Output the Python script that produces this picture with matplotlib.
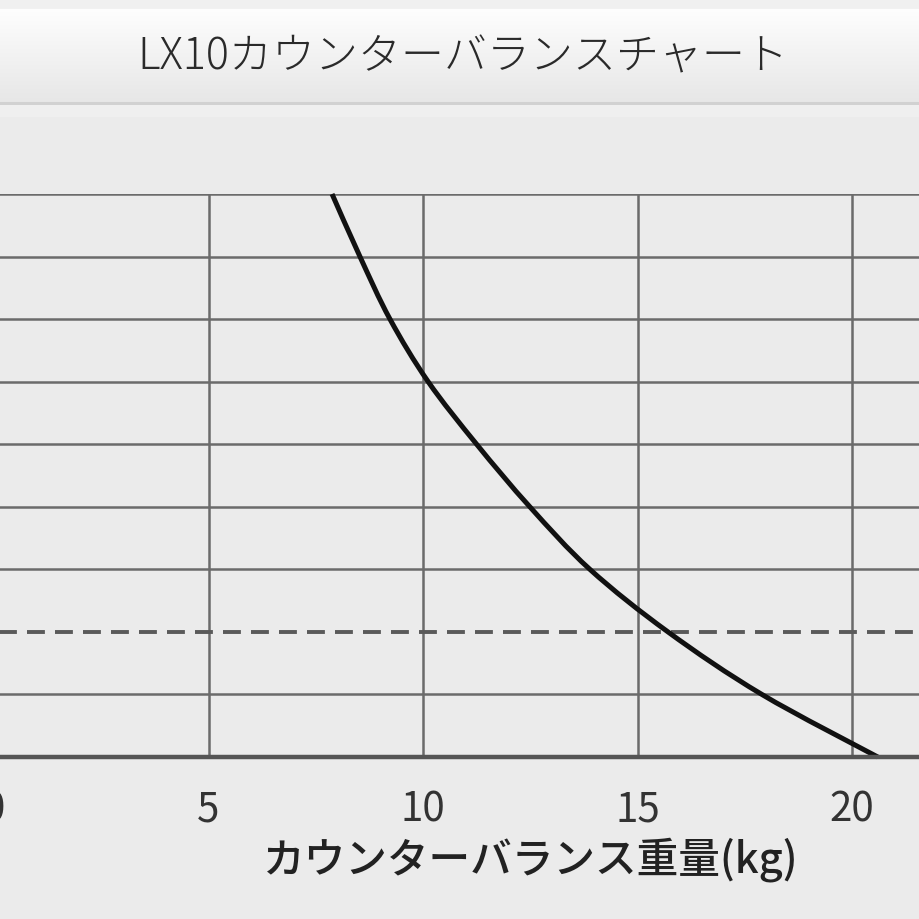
import numpy as np
import matplotlib.pyplot as plt
from matplotlib.path import Path
from matplotlib.patches import PathPatch

plt.rcParams['font.family'] = ['Noto Sans CJK JP', 'DejaVu Sans']

weight_kg = [7.88, 8.53, 9.23, 10.12, 11.25, 12.49, 13.89, 15.71, 17.9, 20.6]
level = [9, 8, 7, 6, 5, 4, 3, 2, 1, 0]

x_ticks = [0, 5, 10, 15, 20]
grid_levels = [1, 3, 4, 5, 6, 7, 8, 9]
dashed_level = 2

title = 'LX10カウンターバランスチャート'
xlabel = 'カウンターバランス重量(kg)'

W = H = 920
fig = plt.figure(figsize=(W / 100, H / 100), dpi=100)
fig.patch.set_facecolor('#ebebeb')

def px_box(x0, y0, x1, y1):
    # pixel box (top-left origin) -> figure fraction rect
    return [x0 / W, 1 - y1 / H, (x1 - x0) / W, (y1 - y0) / H]

def smooth_path(xs, ys):
    # smoothed line through the points (Catmull-Rom as cubic Beziers)
    p = np.column_stack([xs, ys]).astype(float)
    ext = np.vstack([p[0], p, p[-1]])
    verts = [p[0]]
    codes = [Path.MOVETO]
    for i in range(1, len(ext) - 2):
        p0, p1, p2, p3 = ext[i - 1], ext[i], ext[i + 1], ext[i + 2]
        verts += [p1 + (p2 - p0) / 6, p2 - (p3 - p1) / 6, p2]
        codes += [Path.CURVE4] * 3
    return Path(verts, codes)

# title bar with soft vertical gradient
bar = fig.add_axes(px_box(0, 0, W, 118))
bar.set_axis_off()
grad = np.ones((118, 2, 3))
rows = np.arange(118)
shade = np.where(rows < 10, 0.945,
        np.where(rows < 103, 0.995 - (rows - 10) / 93 * 0.09,
        np.where(rows < 106, 0.82, 0.94)))
grad *= shade[:, None, None]
bar.imshow(grad, aspect='auto', extent=[0, 1, 0, 1], interpolation='bilinear')
bar.text(0.503, 1 - 57 / 118, title, ha='center', va='center',
         fontsize=31, fontweight='light', color='#2a2a2a')

# main plot, left part of the axis is cut off by the frame
px_per_kg = 42.9
x0_px = -6
ax = fig.add_axes(px_box(x0_px, 195, W, 758))
ax.set_facecolor('#ebebeb')
ax.set_xlim(0, (W - x0_px) / px_per_kg)
ax.set_ylim(0, 9)

for v in x_ticks[1:]:
    ax.axvline(v, color='#6b6b6b', lw=1.8, zorder=1)
for v in grid_levels:
    ax.axhline(v, color='#6b6b6b', lw=1.8, zorder=1)
ax.axhline(dashed_level, color='#5a5a5a', lw=2.8, dashes=(4.6, 2.6), zorder=2)

curve = PathPatch(smooth_path(weight_kg, level), fill=False,
                  edgecolor='#111111', lw=3.6, capstyle='butt',
                  clip_on=False, zorder=3)
ax.add_patch(curve)

for s in ['top', 'left', 'right']:
    ax.spines[s].set_visible(False)
ax.spines['bottom'].set_color('#555555')
ax.spines['bottom'].set_linewidth(3.2)
ax.spines['bottom'].set_zorder(4)

ax.set_yticks([])
ax.set_xticks(x_ticks)
ax.set_xticklabels([str(t) for t in x_ticks])
ax.tick_params(axis='x', length=0, pad=23, labelsize=29, labelcolor='#333333')

fig.text(531 / W, 1 - 860 / H, xlabel, ha='center', va='center',
         fontsize=30, color='#222222', fontweight='medium')

fig.savefig('out.png', dpi=100, facecolor=fig.get_facecolor())
